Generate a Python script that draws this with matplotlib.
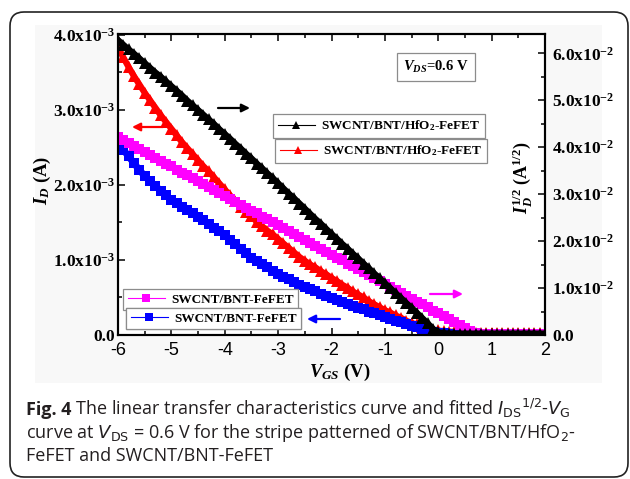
import matplotlib
matplotlib.use("Agg")
import matplotlib.pyplot as plt
import numpy as np
from matplotlib.lines import Line2D
from matplotlib.patches import FancyBboxPatch, Rectangle
from matplotlib.transforms import IdentityTransform
from matplotlib.ticker import MultipleLocator

# gate voltage sweep (V), 0.1 V step
vgs = np.linspace(-6, 2, 81)

# SWCNT/BNT/HfO2-FeFET, I_D^1/2 (right axis), black
hfo2_sqrt = [0.0628, 0.0618, 0.0608, 0.0599, 0.0589, 0.0579, 0.0569, 0.0559, 0.0550, 0.0540,
             0.0530, 0.0520, 0.0510, 0.0499, 0.0489, 0.0479, 0.0469, 0.0459, 0.0449, 0.0438,
             0.0428, 0.0418, 0.0407, 0.0397, 0.0386, 0.0376, 0.0365, 0.0355, 0.0344, 0.0334,
             0.0323, 0.0312, 0.0301, 0.0291, 0.0280, 0.0269, 0.0258, 0.0247, 0.0237, 0.0226,
             0.0215, 0.0205, 0.0194, 0.0184, 0.0173, 0.0163, 0.0152, 0.0142, 0.0131, 0.0121,
             0.0110, 0.0100, 0.0089, 0.0079, 0.0068, 0.0058, 0.0047, 0.0036, 0.0025, 0.0013,
             0.0006, 0.0004, 0.0003, 0.0003, 0.0003, 0.0003, 0.0003, 0.0003, 0.0003, 0.0003,
             0.0003, 0.0003, 0.0003, 0.0003, 0.0003, 0.0003, 0.0003, 0.0003, 0.0003, 0.0003,
             0.0003]

# SWCNT/BNT/HfO2-FeFET, I_D in mA (left axis), red
hfo2_id_ma = [3.83, 3.70, 3.57, 3.45, 3.34, 3.23, 3.13, 3.03, 2.93, 2.84,
              2.75, 2.66, 2.57, 2.49, 2.41, 2.33, 2.25, 2.18, 2.10, 2.02,
              1.94, 1.86, 1.78, 1.71, 1.64, 1.58, 1.51, 1.45, 1.39, 1.34,
              1.28, 1.22, 1.16, 1.10, 1.04, 0.99, 0.94, 0.90, 0.85, 0.81,
              0.76, 0.72, 0.67, 0.63, 0.58, 0.54, 0.50, 0.45, 0.41, 0.37,
              0.33, 0.30, 0.26, 0.23, 0.19, 0.16, 0.14, 0.11, 0.09, 0.07,
              0.06, 0.05, 0.045, 0.04, 0.035, 0.03, 0.03, 0.03, 0.03, 0.03,
              0.03, 0.03, 0.03, 0.03, 0.03, 0.03, 0.03, 0.03, 0.03, 0.03,
              0.03]

# SWCNT/BNT-FeFET, I_D^1/2 (right axis), magenta
bnt_sqrt = [0.0421, 0.0415, 0.0409, 0.0402, 0.0396, 0.0390, 0.0384, 0.0377, 0.0371, 0.0365,
            0.0359, 0.0352, 0.0346, 0.0340, 0.0334, 0.0327, 0.0321, 0.0315, 0.0309, 0.0302,
            0.0296, 0.0290, 0.0284, 0.0277, 0.0271, 0.0265, 0.0259, 0.0252, 0.0246, 0.0240,
            0.0234, 0.0227, 0.0221, 0.0215, 0.0209, 0.0202, 0.0196, 0.0190, 0.0184, 0.0177,
            0.0171, 0.0165, 0.0159, 0.0152, 0.0146, 0.0140, 0.0134, 0.0127, 0.0121, 0.0115,
            0.0109, 0.0102, 0.0096, 0.0090, 0.0084, 0.0077, 0.0071, 0.0065, 0.0059, 0.0052,
            0.0046, 0.0040, 0.0034, 0.0027, 0.0021, 0.0015, 0.0009, 0.0004, 0.0002, 0.0002,
            0.0002, 0.0002, 0.0002, 0.0002, 0.0002, 0.0002, 0.0002, 0.0002, 0.0002, 0.0002,
            0.0002]

# SWCNT/BNT-FeFET, I_D in mA (left axis), blue
bnt_id_ma = [2.56, 2.47, 2.38, 2.29, 2.20, 2.12, 2.05, 1.99, 1.92, 1.86,
             1.80, 1.76, 1.71, 1.66, 1.62, 1.57, 1.53, 1.48, 1.43, 1.38,
             1.33, 1.27, 1.21, 1.15, 1.09, 1.03, 0.99, 0.94, 0.90, 0.85,
             0.81, 0.77, 0.74, 0.70, 0.67, 0.64, 0.61, 0.58, 0.55, 0.52,
             0.49, 0.47, 0.44, 0.41, 0.39, 0.36, 0.34, 0.31, 0.29, 0.26,
             0.24, 0.21, 0.19, 0.17, 0.14, 0.12, 0.10, 0.08, 0.06, 0.04,
             0.03, 0.02, 0.015, 0.01, 0.01, 0.01, 0.01, 0.01, 0.01, 0.01,
             0.01, 0.01, 0.01, 0.01, 0.01, 0.01, 0.01, 0.01, 0.01, 0.01,
             0.01]

xticks = [-6, -5, -4, -3, -2, -1, 0, 1, 2]
left_ticks = [0, 1e-3, 2e-3, 3e-3, 4e-3]
left_labels = ['0.0', r'$\mathbf{1.0x10^{-3}}$', r'$\mathbf{2.0x10^{-3}}$',
               r'$\mathbf{3.0x10^{-3}}$', r'$\mathbf{4.0x10^{-3}}$']
right_ticks = [0, 0.01, 0.02, 0.03, 0.04, 0.05, 0.06]
right_labels = ['0.0'] + [r'$\mathbf{%d.0x10^{-2}}$' % k for k in range(1, 7)]

hfo2_label = r'SWCNT/BNT/HfO$_2$-FeFET'
bnt_label = 'SWCNT/BNT-FeFET'

plt.rcParams['font.family'] = 'Liberation Serif'
plt.rcParams['mathtext.fontset'] = 'custom'
plt.rcParams['mathtext.rm'] = 'Liberation Serif:bold'
plt.rcParams['mathtext.it'] = 'Liberation Serif:italic:bold'
plt.rcParams['mathtext.bf'] = 'Liberation Serif:bold'
plt.rcParams['axes.unicode_minus'] = False

W, H = 630, 479


def fpos(x, y):
    # pixel position (from top-left) -> figure fraction
    return x / W, 1 - y / H


fig = plt.figure(figsize=(6.3, 4.79), dpi=100)

# outer rounded frame and the faint grey panel behind the chart
fig.patches.append(Rectangle((35, H - 383), 567, 358, transform=IdentityTransform(),
                             fc='#f8f8f8', ec='none', zorder=-5))
fig.patches.append(FancyBboxPatch((10, H - 477), 618, 465, boxstyle='round,pad=0,rounding_size=14',
                                  transform=IdentityTransform(), fill=False, lw=1.2, ec='#222222',
                                  zorder=-4))

ax = fig.add_axes([118 / W, 1 - 335 / H, 427 / W, 301 / H])
ax.set_facecolor('white')
ax2 = ax.twinx()

ids_hfo2 = np.array(hfo2_id_ma) * 1e-3
ids_bnt = np.array(bnt_id_ma) * 1e-3

# dense markers over a thick line of the same colour -> solid serrated band
ax.plot(vgs, ids_hfo2, '-^', color='#ff0000', ms=8.5, lw=4.5, mew=0)
ax.plot(vgs, ids_bnt, '-s', color='#0000ff', ms=7, lw=5, mew=0)
ax2.plot(vgs, bnt_sqrt, '-s', color='#ff00ff', ms=7, lw=5, mew=0)
ax2.plot(vgs, hfo2_sqrt, '-^', color='black', ms=8.5, lw=4.5, mew=0)

ax.set_xlim(-6, 2)
ax.set_ylim(0, 4.013e-3)
ax2.set_ylim(0, 0.0641)

ax.set_xticks(xticks)
ax.set_xticklabels([str(v) for v in xticks], fontfamily='Liberation Sans', fontweight='normal', fontsize=13)
ax.xaxis.set_minor_locator(MultipleLocator(0.5))
ax.set_yticks(left_ticks)
ax.set_yticklabels(left_labels, fontsize=12.5, fontweight='bold')
ax.yaxis.set_minor_locator(MultipleLocator(0.5e-3))
ax2.set_yticks(right_ticks)
ax2.set_yticklabels(right_labels, fontsize=12.5, fontweight='bold')
ax2.yaxis.set_minor_locator(MultipleLocator(0.005))

ax.tick_params(axis='x', which='both', direction='in', top=True, width=1.1)
ax.tick_params(axis='x', which='major', length=5, pad=5)
ax.tick_params(axis='x', which='minor', length=3)
ax.tick_params(axis='y', which='both', direction='in', right=False, width=1.1)
ax.tick_params(axis='y', which='major', length=5, pad=2)
ax.tick_params(axis='y', which='minor', length=3)
ax2.tick_params(axis='y', which='both', direction='in', width=1.1)
ax2.tick_params(axis='y', which='major', length=5, pad=5)
ax2.tick_params(axis='y', which='minor', length=3)
for a in (ax, ax2):
    for s in a.spines.values():
        s.set_linewidth(1.5)

# axis titles
fig.text(*fpos(42, 180), r'$I_D$ (A)', rotation=90, ha='center', va='center', fontsize=13.5,
         fontweight='bold')
fig.text(*fpos(522, 178), r'$I_D^{1/2}$ (A$^{1/2}$)', rotation=90, ha='center', va='center',
         fontsize=13, fontweight='bold')
fig.text(*fpos(340, 372), r'$V_{GS}$ (V)', ha='center', va='center', fontsize=13.5, fontweight='bold')


# one framed legend box per curve (thin line + marker as in the original key)
def box_legend(color, marker, label, x, y):
    h = Line2D([], [], color=color, marker=marker, ms=6, lw=0.8, mew=0)
    leg = ax2.legend([h], [label], loc='upper left', bbox_to_anchor=fpos(x, y),
                     bbox_transform=fig.transFigure, borderaxespad=0, frameon=True,
                     fancybox=False, edgecolor='#8c8c8c', framealpha=1, handlelength=2.8,
                     handletextpad=0.5, borderpad=0.35,
                     prop=dict(family='Liberation Serif', weight='bold', size=9.5))
    leg.get_frame().set_linewidth(0.9)
    ax2.add_artist(leg)


box_legend('black', '^', hfo2_label, 273, 114)
box_legend('#ff0000', '^', hfo2_label, 275, 139)
box_legend('#ff00ff', 's', bnt_label, 123, 289)
box_legend('#0000ff', 's', bnt_label, 126, 308)

fig.text(*fpos(436, 67), r'$V_{DS}$=0.6 V', ha='center', va='center', fontsize=10.5, fontweight='bold',
         bbox=dict(boxstyle='square,pad=0.4', fc='white', ec='#8c8c8c', lw=0.9))

# direction arrows
arrows = [((218, 108), (250, 108), 'black'), ((163, 127), (132, 127), '#ff0000'),
          ((430, 294), (463, 294), '#ff00ff'), ((340, 319), (307, 319), '#0000ff')]
for (x0, y0), (x1, y1), c in arrows:
    ax2.annotate('', xy=(x1, H - y1), xytext=(x0, H - y0), xycoords='figure pixels',
                 textcoords='figure pixels', annotation_clip=False,
                 arrowprops=dict(arrowstyle='-|>', color=c, lw=1.6, mutation_scale=12,
                                 shrinkA=0, shrinkB=0))

# caption
cap = dict(fontsize=13, family='Open Sans', color='#231f20', va='baseline', math_fontfamily='dejavusans')
lines = [r' The linear transfer characteristics curve and fitted $I_{\mathrm{DS}}{}^{1/2}$-$V_{\mathrm{G}}$',
         r'curve at $V_{\mathrm{DS}}$ = 0.6 V for the stripe patterned of SWCNT/BNT/HfO$_2$-',
         'FeFET and SWCNT/BNT-FeFET']
t0 = fig.text(*fpos(26, 415), 'Fig. 4', fontweight='bold', **cap)
fig.canvas.draw()
bb = t0.get_window_extent()
fig.text(bb.x1 / W, 1 - 415 / H, lines[0], fontweight='normal', **cap)
fig.text(*fpos(26, 438), lines[1], fontweight='normal', **cap)
fig.text(*fpos(26, 461), lines[2], fontweight='normal', **cap)

fig.savefig('out.png', dpi=100)
